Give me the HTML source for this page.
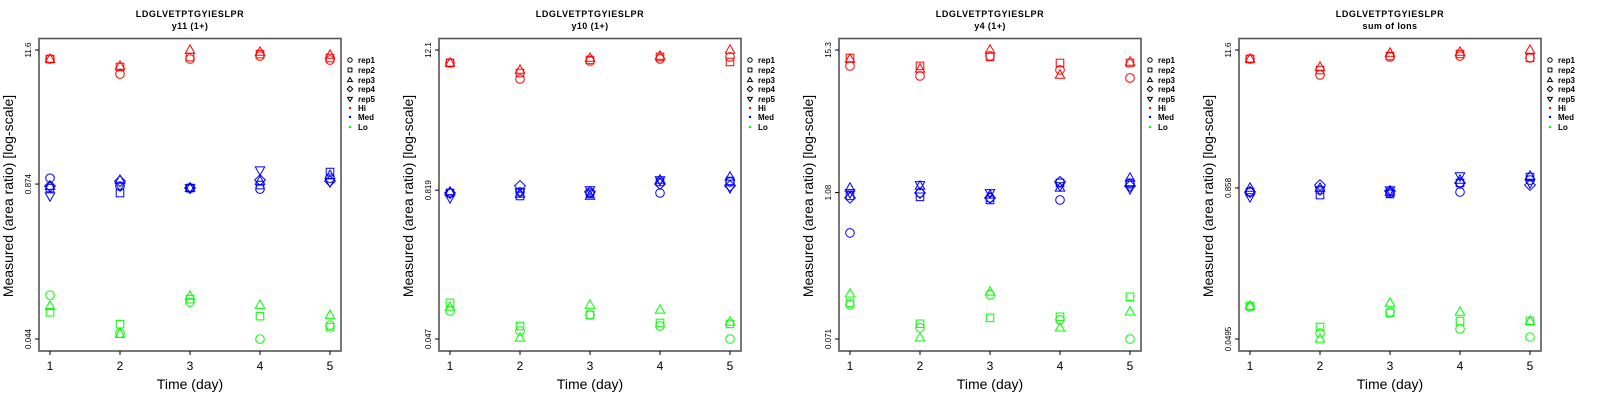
<!DOCTYPE html>
<html><head><meta charset="utf-8">
<style>
html,body{margin:0;padding:0;background:#fff;}
svg{display:block;font-family:"Liberation Sans",sans-serif;}
</style></head>
<body>
<svg id="chart" width="1600" height="400" viewBox="0 0 1600 400"></svg>
<script>
// Panel metadata
const panelTitles = ["y11 (1+)", "y10 (1+)", "y4 (1+)", "sum of Ions"];
const yTickLabels = [["11.6","0.874","0.044"],["12.1","0.819","0.047"],["15.3","1.08","0.071"],["11.6","0.858","0.0495"]];
const days = [1,2,3,4,5];
// values are log10(area ratio); [panel][day][rep]
const hiValues = [
 [[0.989,0.989,0.989],[0.863,0.922,0.930],[0.989,1.005,1.064],[1.014,1.030,1.047],[0.980,0.997,1.022]],
 [[0.975,0.975,0.975],[0.841,0.891,0.916],[0.991,1.000,1.016],[1.008,1.025,1.033],[1.025,0.983,1.083]],
 [[1.056,1.120,1.112],[0.975,1.056,1.032],[1.137,1.129,1.185],[1.024,1.080,0.983],[0.959,1.080,1.088]],
 [[0.991,0.991,0.991],[0.860,0.900,0.925],[1.007,1.015,1.040],[1.015,1.032,1.048],[1.000,1.000,1.064]]
];
const medValues = [
 [[-0.009,-0.092,-0.076,-0.076,-0.159],[-0.076,-0.134,-0.025,-0.034,-0.076],[-0.092,-0.092,-0.092,-0.092,-0.092],[-0.101,-0.067,-0.034,-0.025,0.058],[-0.009,0.042,0.016,-0.034,-0.042]],
 [[-0.110,-0.110,-0.101,-0.110,-0.151],[-0.101,-0.135,-0.118,-0.051,-0.101],[-0.110,-0.118,-0.135,-0.101,-0.085],[-0.110,-0.018,-0.001,-0.035,-0.001],[-0.018,-0.010,0.024,-0.051,-0.068]],
 [[-0.292,0.007,0.071,-0.009,0.031],[0.031,-0.001,0.087,0.031,0.096],[-0.009,-0.026,0.015,-0.009,0.031],[-0.026,0.112,0.071,0.120,0.087],[0.104,0.112,0.152,0.087,0.063]],
 [[-0.100,-0.100,-0.067,-0.100,-0.141],[-0.084,-0.125,-0.067,-0.043,-0.084],[-0.108,-0.116,-0.100,-0.092,-0.084],[-0.100,-0.026,-0.002,-0.026,0.031],[-0.002,0.023,0.031,-0.043,-0.026]]
];
const loValues = [
 [[-0.989,-1.132,-1.081],[-1.308,-1.232,-1.316],[-1.048,-1.023,-0.997],[-1.357,-1.165,-1.073],[-1.241,-1.257,-1.157]],
 [[-1.094,-1.027,-1.060],[-1.261,-1.219,-1.319],[-1.127,-1.127,-1.044],[-1.219,-1.194,-1.085],[-1.328,-1.202,-1.185]],
 [[-0.873,-0.857,-0.784],[-1.058,-1.026,-1.139],[-0.792,-0.978,-0.768],[-0.994,-0.970,-1.058],[-1.149,-0.808,-0.929]],
 [[-1.043,-1.035,-1.035],[-1.256,-1.207,-1.305],[-1.084,-1.092,-1.010],[-1.223,-1.158,-1.084],[-1.289,-1.158,-1.158]]
];
const repNames = ["rep1","rep2","rep3","rep4","rep5"];
const groupNames = ["Hi","Med","Lo"];
const groupColors = ["#ff0000","#0000ff","#00ff00"];

const NS = "http://www.w3.org/2000/svg";
const svg = document.getElementById('chart');
function mk(tag, attrs, parent, text){
  const e = document.createElementNS(NS, tag);
  for (const k in attrs) e.setAttribute(k, attrs[k]);
  if (text !== undefined) e.textContent = text;
  parent.appendChild(e);
  return e;
}
function symbol(g, shape, x, y, color, r){
  let e;
  const st = {fill:'none', stroke:color, 'stroke-width':1};
  if (shape===0) e = mk('circle', Object.assign({cx:x, cy:y, r:r}, st), g);
  else if (shape===1) e = mk('rect', Object.assign({x:x-r*0.88, y:y-r*0.88, width:r*1.76, height:r*1.76}, st), g);
  else if (shape===2) e = mk('polygon', Object.assign({points:`${x},${y-r*1.2} ${x-r*1.1},${y+r*0.75} ${x+r*1.1},${y+r*0.75}`}, st), g);
  else if (shape===3) e = mk('polygon', Object.assign({points:`${x},${y-r*1.25} ${x+r*1.25},${y} ${x},${y+r*1.25} ${x-r*1.25},${y}`}, st), g);
  else e = mk('polygon', Object.assign({points:`${x},${y+r*1.2} ${x-r*1.1},${y-r*0.75} ${x+r*1.1},${y-r*0.75}`}, st), g);
  return e;
}

for (let p = 0; p < 4; p++){
  const ox = p*400;
  const g = mk('g', {transform:`translate(${ox},0)`}, svg);
  
  
  const ticks = yTickLabels[p];
  const lTop = Math.log10(parseFloat(ticks[0])), lBot = Math.log10(parseFloat(ticks[2]));
  const yS = v => 50 + (lTop - v)/(lTop - lBot)*289;
  const xS = d => 50 + (d-1)*70;

  const t1 = mk('text', {x:190, y:17, 'text-anchor':'middle', 'font-size':9, 'font-weight':'bold', 'letter-spacing':'0.6'}, g, 'LDGLVETPTGYIESLPR');
  
  
  const t2 = mk('text', {x:190, y:29, 'text-anchor':'middle', 'font-size':9, 'font-weight':'bold', 'letter-spacing':'0.4'}, g, panelTitles[p]);
  
  

  const box = mk('rect', {x:39, y:38.5, width:302, height:312.5, fill:'none', stroke:'#555', 'stroke-width':1.6}, g);
  
  

  // x axis ticks
  days.forEach(d => {
    mk('line', {x1:xS(d), x2:xS(d), y1:351, y2:355, stroke:'#000', 'stroke-width':1}, g);
    const tl = mk('text', {x:xS(d), y:370, 'text-anchor':'middle', 'font-size':12}, g, String(d));
    
    
  });
  // y axis ticks
  const tickVals = ticks.map(s => Math.log10(parseFloat(s)));
  tickVals.forEach((v, i) => {
    const y = yS(v);
    mk('line', {x1:35, x2:39, y1:y, y2:y, stroke:'#000', 'stroke-width':1}, g);
    const tl = mk('text', {x:0, y:0, 'text-anchor':'middle', 'font-size':8, transform:`translate(31,${y}) rotate(-90)`}, g, ticks[i]);
    
    
  });
  const xt = mk('text', {x:190, y:389, 'text-anchor':'middle', 'font-size':14}, g, 'Time (day)');
  
  
  const yt = mk('text', {x:0, y:0, 'text-anchor':'middle', 'font-size':14, transform:'translate(13,196) rotate(-90)'}, g, 'Measured (area ratio) [log-scale]');
  
  

  // data
  const groups = [hiValues[p], medValues[p], loValues[p]];
  groups.forEach((gv, gi) => {
    gv.forEach((reps, di) => {
      reps.forEach((v, ri) => {
        const m = symbol(g, ri, xS(days[di]), yS(v), groupColors[gi], 4.3);
        
        
      });
    });
  });

  // legend
  const lg = mk('g', {}, g);
  
  
  const rowsY = [60,70,80,89,99,108,117,127];
  repNames.forEach((n, i) => {
    symbol(lg, i, 350, rowsY[i], '#000', 2.2);
    const lt = mk('text', {x:358, y:rowsY[i]+3, 'font-size':8, 'font-weight':'bold'}, lg, n);
    
    
  });
  groupNames.forEach((n, i) => {
    const y = rowsY[5+i];
    mk('circle', {cx:350, cy:y, r:1.2, fill:groupColors[i]}, lg);
    const lt = mk('text', {x:358, y:y+3, 'font-size':8, 'font-weight':'bold'}, lg, n);
    
    
  });
}
</script>
</body></html>
